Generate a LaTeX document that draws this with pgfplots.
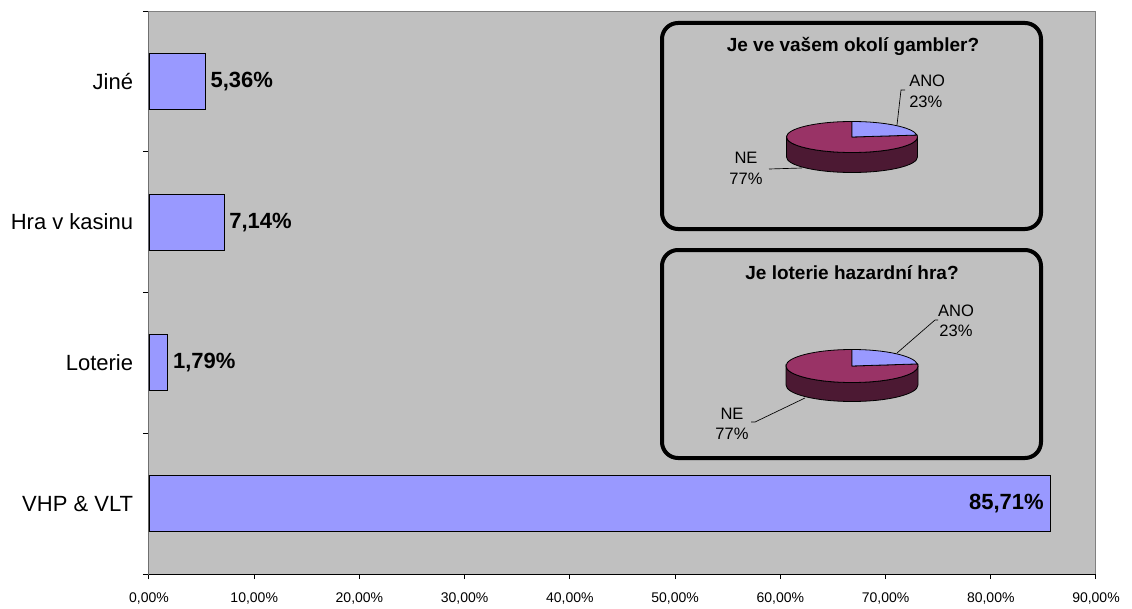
\documentclass[border=0pt]{standalone}
\usepackage{pgfplots}
\pgfplotsset{compat=1.18}
\usepackage{fontspec}
\setmainfont{Liberation Sans}

\definecolor{plotbg}{HTML}{C0C0C0}
\definecolor{barblue}{HTML}{9999FF}
\definecolor{pieplum}{HTML}{993366}
\definecolor{pieside}{HTML}{4C1933}
\definecolor{frame}{HTML}{808080}

% 3D pie: #1 cx, #2 cy, #3 rx, #4 ry, #5 depth, #6 share of ANO in percent
\newcommand{\gpie}[6]{%
  \pgfmathsetmacro{\pa}{90-3.6*#6}%
  \filldraw[fill=pieside, draw=black, line width=0.6pt]
    (#1-#3,#2) -- ++(0,-#5)
    arc[start angle=180, end angle=360, x radius=#3, y radius=#4]
    -- ++(0,#5)
    arc[start angle=0, end angle=-180, x radius=#3, y radius=#4] -- cycle;
  \filldraw[fill=pieplum, draw=black, line width=0.6pt]
    (#1,#2) -- ++(90:#3 and #4)
    arc[start angle=90, end angle=360+\pa, x radius=#3, y radius=#4] -- cycle;
  \filldraw[fill=barblue, draw=black, line width=0.6pt]
    (#1,#2) -- ++(\pa:#3 and #4)
    arc[start angle=\pa, end angle=90, x radius=#3, y radius=#4] -- cycle;
}

\begin{document}
\begin{tikzpicture}
\begin{axis}[
    at={(0,0)}, anchor=south west,
    scale only axis, width=710.25pt, height=422.25pt,
    xbar, bar width=42pt, bar shift=0pt,
    xmin=0, xmax=90, ymin=-0.5, ymax=3.5,
    axis background/.style={fill=plotbg},
    axis line style={draw=frame, line width=0.75pt},
    tick pos=left, tick align=outside,
    tick style={black, line width=0.75pt},
    major tick length=3.75pt, minor tick length=4.5pt,
    xtick={0,10,...,90},
    xticklabels={{0,00\%},{10,00\%},{20,00\%},{30,00\%},{40,00\%},{50,00\%},{60,00\%},{70,00\%},{80,00\%},{90,00\%}},
    xticklabel style={font=\fontsize{10.5}{12}\selectfont, inner sep=0pt, yshift=-10pt},
    ytick={0,1,2,3},
    yticklabels={VHP \& VLT, Loterie, Hra v kasinu, Jiné},
    minor ytick={-0.5,0.5,1.5,2.5,3.5},
    major y tick style={draw=none},
    yticklabel style={font=\fontsize{16.5}{18}\selectfont, inner sep=0pt, xshift=-8pt},
    point meta=x,
    nodes near coords={\pgfmathprintnumber[fixed,fixed zerofill,precision=2,use comma,assume math mode=true]{\pgfplotspointmeta}\%},
    every node near coord/.append style={font=\bfseries\fontsize{16.5}{18}\selectfont, inner sep=0pt, black},
  ]
  \addplot[fill=barblue, draw=black, line width=0.8pt,
    nodes near coords style={anchor=west, xshift=3.5pt}]
    coordinates {(1.79,1) (7.14,2) (5.36,3)};
  \addplot[fill=barblue, draw=black, line width=0.8pt,
    nodes near coords style={anchor=east, xshift=-5pt}]
    coordinates {(85.71,0)};
  \draw[black, line width=0.75pt] (rel axis cs:0,1) -- (rel axis cs:0,0) -- (rel axis cs:1,0);
\end{axis}

% insets, in pixel units of the reference (origin at its lower left corner)
\begin{scope}[x=0.75pt, y=0.75pt, shift={(-111.75pt,-25.5pt)}]
  \draw[black, line width=3pt, rounded corners=12pt, fill=plotbg] (662,379) rectangle (1041,585);
  \draw[black, line width=3pt, rounded corners=12pt, fill=plotbg] (662,150) rectangle (1041,358);

  \node[font=\bfseries\fontsize{14.25}{16}\selectfont] at (853,562) {Je ve vašem okolí gambler?};
  \node[font=\bfseries\fontsize{14.25}{16}\selectfont] at (852,335) {Je loterie hazardní hra?};

  \gpie{852}{471}{65.5}{15.5}{20}{23}
  \gpie{852}{242}{66}{16.5}{19}{23}

  \begin{scope}[line width=0.5pt]
    \draw (897,483) -- (901,518) -- (905,518);
    \draw (769,439) -- (802,440);
    \draw (897,255) -- (935,288) -- (938,288);
    \draw (751,186) -- (755,186) -- (805,210);
  \end{scope}
  \begin{scope}[every node/.style={font=\fontsize{12.4}{15.4}\selectfont, inner sep=0pt}]
    \node[align=left, anchor=west] at (909,516.5) {ANO\\23\%};
    \node[align=center] at (746,439.5) {NE\\77\%};
    \node[align=center] at (956,287) {ANO\\23\%};
    \node[align=center] at (732,184) {NE\\77\%};
  \end{scope}
\end{scope}

\pgfresetboundingbox
\useasboundingbox (-111.75pt,-25.5pt) rectangle (737.25pt,430.5pt);
\end{tikzpicture}
\end{document}
